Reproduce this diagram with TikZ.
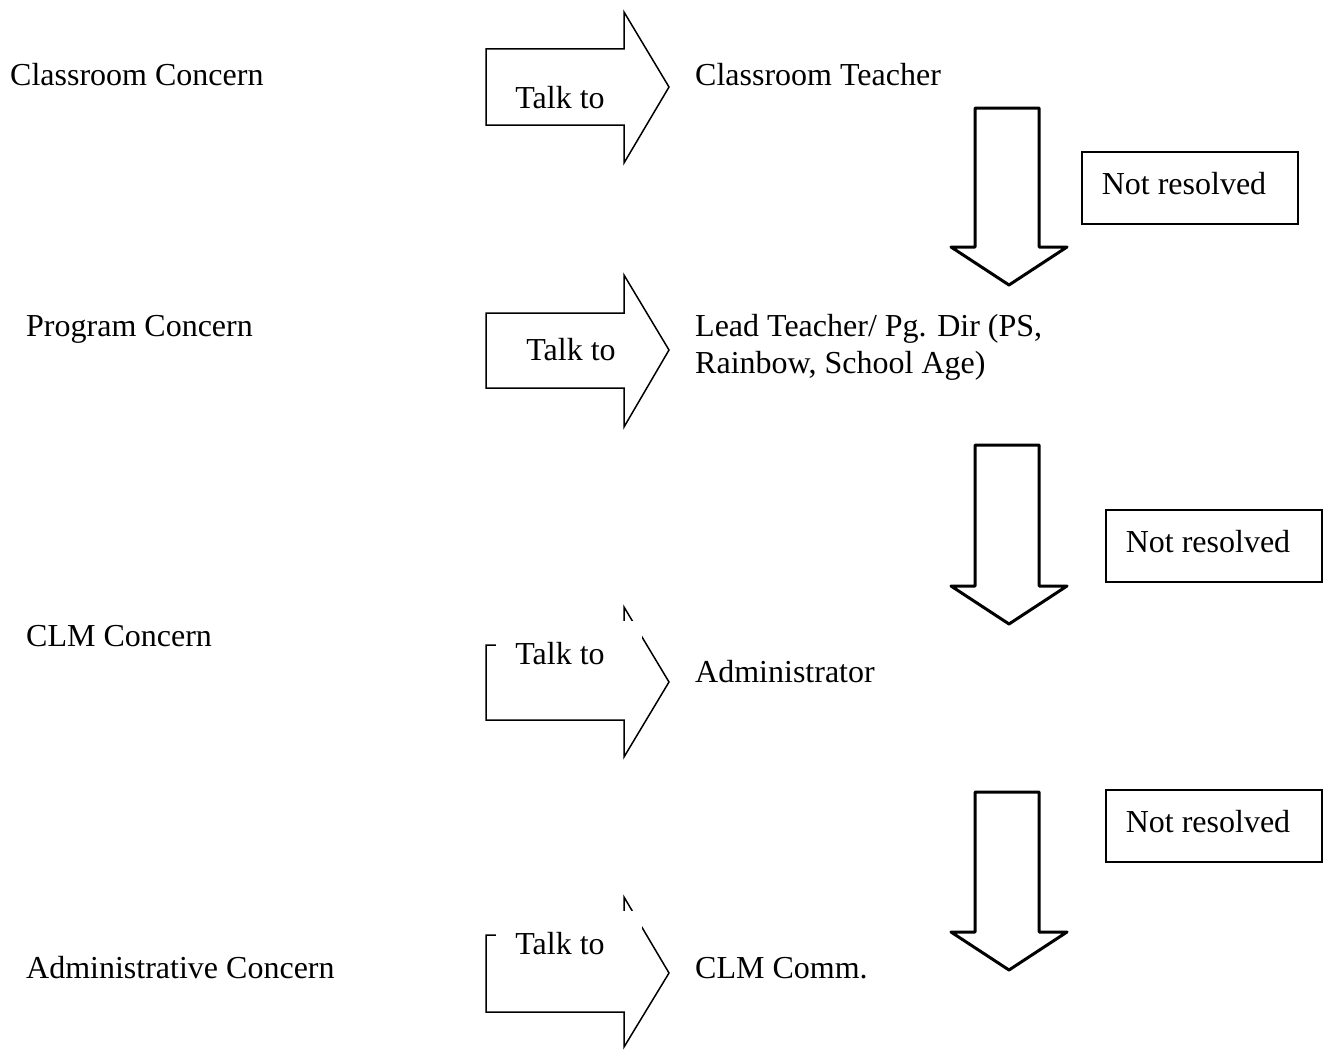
\documentclass[tikz,border=0pt]{standalone}
\usepackage{fontspec}
\setmainfont{Liberation Serif}
\begin{document}
\begin{tikzpicture}[x=1pt,y=-1pt,
  lbl/.style={anchor=base west,inner sep=0pt,font=\fontsize{32}{38}\selectfont},
  talk/.style={anchor=base,inner sep=0pt,font=\fontsize{32}{38}\selectfont},
  rarrow/.style={draw=black,line width=1.5pt,line join=miter},
  darrow/.style={draw=black,line width=3pt,line join=round},
  nrbox/.style={draw=black,line width=1.5pt},
  nrtext/.style={anchor=base,inner sep=0pt,font=\fontsize{32}{38}\selectfont}]
\useasboundingbox (0,0) rectangle (1332,1049);

% left labels
\node[lbl] (c1) at (10,85) {Classroom Concern};
\node[lbl] (c2) at (26,336) {Program Concern};
\node[lbl] (c3) at (26,646) {CLM Concern};
\node[lbl] (c4) at (26,978) {Administrative Concern};

% right labels
\node[lbl] (r1) at (695,85) {Classroom Teacher};
\node[lbl] (r2) at (695,336) {Lead Teacher/ Pg. Dir (PS,};
\node[lbl] (r2b) at (695,373) {Rainbow, School Age)};
\node[lbl] (r3) at (695,682) {Administrator};
\node[lbl] (r4) at (695,978) {CLM Comm.};

% right block arrows
\draw[rarrow] (486,49) -- (624,49) -- (624,12) -- (669,87) -- (624,163) -- (624,125) -- (486,125) -- cycle;
\node[talk] (t1) at (560,108) {Talk to};

\draw[rarrow] (486,313) -- (624,313) -- (624,275) -- (669,350) -- (624,427) -- (624,388) -- (486,388) -- cycle;
\node[talk] (t2) at (571,360) {Talk to};

\draw[rarrow] (486,645) -- (624,645) -- (624,607) -- (669,682) -- (624,757) -- (624,720) -- (486,720) -- cycle;
\fill[white] (496,621) rectangle (642,651);
\node[talk] (t3) at (560,664) {Talk to};

\draw[rarrow] (486,935) -- (624,935) -- (624,897) -- (669,973) -- (624,1047) -- (624,1012) -- (486,1012) -- cycle;
\fill[white] (496,911) rectangle (642,941);
\node[talk] (t4) at (560,954) {Talk to};

% down block arrows
\draw[darrow] (975,108) -- (1039,108) -- (1039,247) -- (1067,247) -- (1009,285) -- (951,247) -- (975,247) -- cycle;
\draw[darrow] (975,445) -- (1039,445) -- (1039,586) -- (1067,586) -- (1009,624) -- (951,586) -- (975,586) -- cycle;
\draw[darrow] (975,792) -- (1039,792) -- (1039,932) -- (1067,932) -- (1009,970) -- (951,932) -- (975,932) -- cycle;

% not resolved boxes
\draw[nrbox] (1082,152) rectangle (1298,224);
\node[nrtext] (n1) at (1184,194) {Not resolved};
\draw[nrbox] (1106,510) rectangle (1322,582);
\node[nrtext] (n2) at (1208,552) {Not resolved};
\draw[nrbox] (1106,790) rectangle (1322,862);
\node[nrtext] (n3) at (1208,832) {Not resolved};
\end{tikzpicture}
\end{document}
